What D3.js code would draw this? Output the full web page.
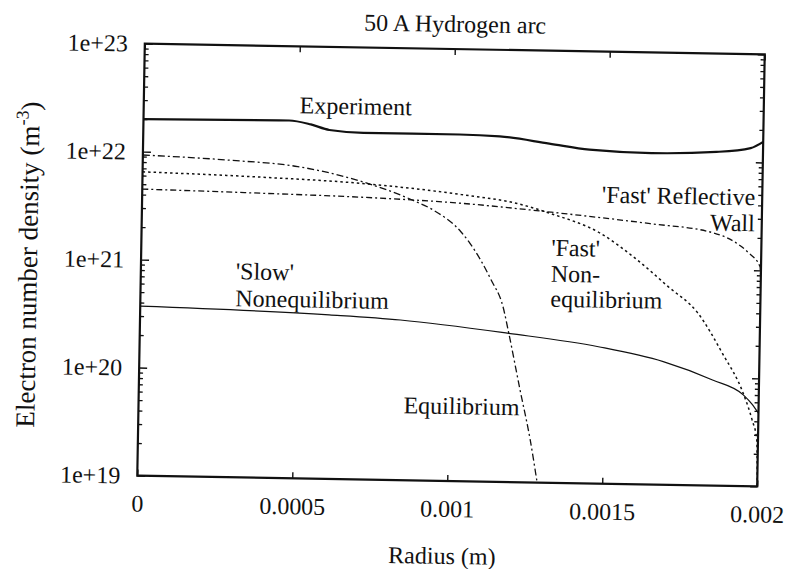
<!DOCTYPE html>
<html lang="en">
  <head>
    <meta charset="UTF-8" />
    <title>50 A Hydrogen arc</title>
    <script src="https://d3js.org/d3.v7.min.js"></script>
    <style>
      body {
        margin: 0;
        background: #fff;
      }
      .axis path {
        display: none;
      }
      .axis line {
        stroke: #111;
        stroke-width: 1.4;
      }
      .curve {
        fill: none;
        stroke: #111;
      }
    </style>
  </head>
  <body>
    <div id="chart"></div>

    <script>
      // radius (m) and electron number density (m^-3)
      const expR = [0, 0.00047, 0.00054, 0.0006, 0.00071, 0.00102, 0.00115, 0.00131, 0.00144, 0.00164, 0.00185, 0.00196, 0.002];
      const expN = [2.0e22, 2.05e22, 1.9e22, 1.7e22, 1.62e22, 1.62e22, 1.58e22, 1.38e22, 1.23e22, 1.17e22, 1.23e22, 1.35e22, 1.55e22];

      const eqR = [0, 0.00028, 0.0005, 0.00071, 0.000875, 0.00094, 0.00103, 0.00106, 0.00113, 0.00117, 0.00119, 0.00123, 0.001265, 0.00129];
      const eqN = [9.3e21, 8.6e21, 7.7e21, 5.7e21, 3.9e21, 3.2e21, 2.04e21, 1.6e21, 7.4e20, 4.2e20, 2.4e20, 7.1e19, 2.5e19, 1.0e19];

      const fastR = [0, 0.00039, 0.00071, 0.00103, 0.00121, 0.00132, 0.00148, 0.00159, 0.0017, 0.0018, 0.00188, 0.00195, 0.00198, 0.001996, 0.002];
      const fastN = [6.5e21, 6.05e21, 5.5e21, 4.5e21, 3.8e21, 3.1e21, 2.08e21, 1.26e21, 6.9e20, 3.9e20, 1.69e20, 7.2e19, 4.1e19, 2.7e19, 1.0e19];

      const wallR = [0, 0.00039, 0.00071, 0.00103, 0.00132, 0.00164, 0.00183, 0.00192, 0.00196, 0.001997, 0.002];
      const wallN = [4.5e21, 4.3e21, 4.1e21, 3.74e21, 3.2e21, 2.6e21, 2.24e21, 1.77e21, 1.44e21, 1.08e21, 8.0e20];

      const slowR = [0, 0.00061, 0.00084, 0.00119, 0.00148, 0.00169, 0.00185, 0.00195, 0.00198, 0.002];
      const slowN = [3.7e20, 3.3e20, 3.04e20, 2.38e20, 1.85e20, 1.38e20, 9.5e19, 7.0e19, 5.7e19, 4.75e19];

      const xTicks = [0, 0.0005, 0.001, 0.0015, 0.002];
      const yTicks = [1e19, 1e20, 1e21, 1e22, 1e23];

      const serif = "Liberation Serif";

      const width = 788;
      const height = 569;
      const margin = { top: 49, right: 27, bottom: 88, left: 141 };
      const innerW = width - margin.left - margin.right;
      const innerH = height - margin.top - margin.bottom;

      const svg = d3.select("#chart").append("svg").attr("width", width).attr("height", height);

      // the scanned figure sits about one degree off square
      const page = svg.append("g").attr("transform", "rotate(1, 451, 265)");

      const x = d3.scaleLinear().domain([0, 0.002]).range([margin.left, margin.left + innerW]);
      const y = d3.scaleLog().domain([1e19, 1e23]).range([margin.top + innerH, margin.top]);

      // minor log ticks 2..9 in each decade
      const minorTicks = [];
      for (let e = 19; e < 23; e++) {
        for (let m = 2; m <= 9; m++) minorTicks.push(m * Math.pow(10, e));
      }

      page
        .append("defs")
        .append("clipPath")
        .attr("id", "plot-clip")
        .append("rect")
        .attr("x", margin.left)
        .attr("y", margin.top)
        .attr("width", innerW)
        .attr("height", innerH);

      // axes
      function styleAxis(g) {
        g.attr("font-family", null).attr("font-size", null);
        g.selectAll("text").style("font-family", serif).style("font-size", "24px").attr("fill", "#111");
      }

      page
        .append("g")
        .attr("class", "axis")
        .attr("transform", `translate(${margin.left},0)`)
        .call(
          d3
            .axisLeft(y)
            .tickValues(yTicks)
            .tickSize(-8)
            .tickPadding(17)
            .tickFormat((d) => "1e+" + Math.round(Math.log10(d)))
        )
        .call(styleAxis);

      page
        .append("g")
        .attr("class", "axis")
        .attr("transform", `translate(${margin.left},0)`)
        .call(d3.axisLeft(y).tickValues(minorTicks).tickSize(-4).tickFormat(""));

      page
        .append("g")
        .attr("class", "axis")
        .attr("transform", `translate(${margin.left + innerW},0)`)
        .call(d3.axisRight(y).tickValues(yTicks).tickSize(-7).tickFormat(""));

      page
        .append("g")
        .attr("class", "axis")
        .attr("transform", `translate(${margin.left + innerW},0)`)
        .call(d3.axisRight(y).tickValues(minorTicks).tickSize(-4).tickFormat(""));

      page
        .append("g")
        .attr("class", "axis")
        .attr("transform", `translate(0,${margin.top + innerH})`)
        .call(d3.axisBottom(x).tickValues(xTicks).tickSize(-6).tickPadding(19).tickFormat((d) => String(d)))
        .call(styleAxis);

      page
        .append("g")
        .attr("class", "axis")
        .attr("transform", `translate(0,${margin.top})`)
        .call(d3.axisTop(x).tickValues(xTicks).tickSize(-6).tickFormat(""));

      page
        .append("rect")
        .attr("x", margin.left)
        .attr("y", margin.top)
        .attr("width", innerW)
        .attr("height", innerH)
        .attr("fill", "none")
        .attr("stroke", "#111")
        .attr("stroke-width", 2.2);

      // curves
      const line = d3
        .line()
        .x((d) => x(d[0]))
        .y((d) => y(d[1]))
        .curve(d3.curveMonotoneX);

      const series = [
        { r: expR, n: expN, width: 2.2, dash: null },
        { r: eqR, n: eqN, width: 1.3, dash: "7,3,2,3" },
        { r: fastR, n: fastN, width: 1.5, dash: "2.5,3" },
        { r: wallR, n: wallN, width: 1.3, dash: "6,3,2,3" },
        { r: slowR, n: slowN, width: 1.2, dash: null },
      ];

      const curves = page.append("g").attr("clip-path", "url(#plot-clip)");
      series.forEach((s) => {
        curves
          .append("path")
          .attr("class", "curve")
          .attr("d", line(s.r.map((r, i) => [r, s.n[i]])))
          .attr("stroke-width", s.width)
          .attr("stroke-dasharray", s.dash);
      });

      // annotations
      const labels = [
        { t: "Experiment", x: 297, y: 116, a: "start" },
        { t: "'Slow'", x: 236, y: 283, a: "start" },
        { t: "Nonequilibrium", x: 236, y: 310, a: "start" },
        { t: "Equilibrium", x: 406, y: 414, a: "start" },
        { t: "'Fast' Reflective", x: 754, y: 200, a: "end" },
        { t: "Wall", x: 754, y: 226, a: "end" },
        { t: "'Fast'", x: 551, y: 254, a: "start" },
        { t: "Non-", x: 551, y: 280, a: "start" },
        { t: "equilibrium", x: 551, y: 305, a: "start" },
      ];
      page
        .selectAll(".note")
        .data(labels)
        .enter()
        .append("text")
        .attr("class", "note")
        .attr("x", (d) => d.x)
        .attr("y", (d) => d.y)
        .attr("text-anchor", (d) => d.a)
        .attr("fill", "#111")
        .style("font-family", serif)
        .style("font-size", "24px")
        .text((d) => d.t);

      // title and axis titles
      page
        .append("text")
        .attr("x", 451)
        .attr("y", 32)
        .attr("text-anchor", "middle")
        .attr("fill", "#111")
        .style("font-family", serif)
        .style("font-size", "24px")
        .text("50 A Hydrogen arc");

      page
        .append("text")
        .attr("x", 447)
        .attr("y", 564)
        .attr("text-anchor", "middle")
        .attr("fill", "#111")
        .style("font-family", serif)
        .style("font-size", "24px")
        .text("Radius (m)");

      const yLabel = page
        .append("text")
        .attr("transform", "translate(37,272) rotate(-90)")
        .attr("text-anchor", "middle")
        .attr("fill", "#111")
        .style("font-family", serif)
        .style("font-size", "27px");
      yLabel.append("tspan").text("Electron number density (m");
      yLabel.append("tspan").style("font-size", "18px").attr("dy", -11).text("-3");
      yLabel.append("tspan").attr("dy", 11).text(")");
    </script>
  </body>
</html>
